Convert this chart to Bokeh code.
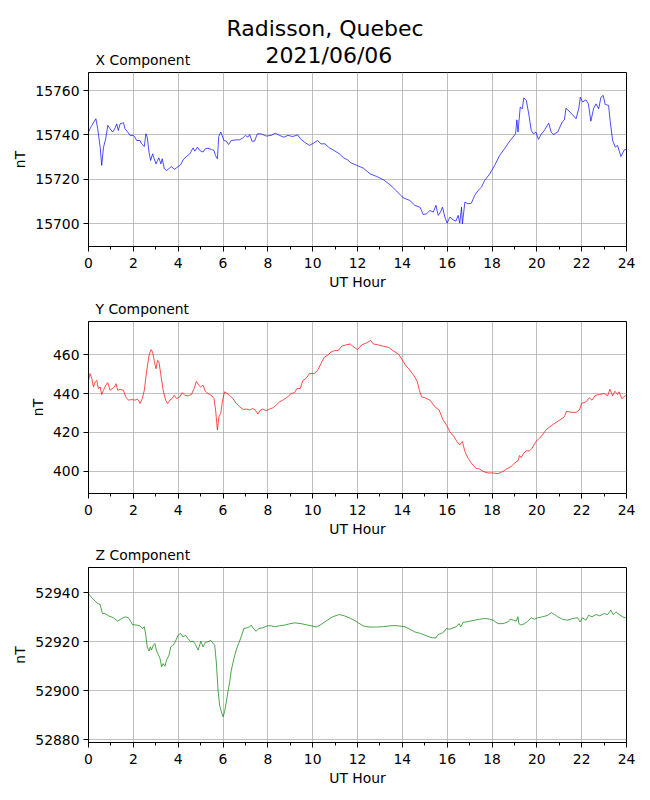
from bokeh.plotting import figure
from bokeh.layouts import column
from bokeh.models import FixedTicker, Range1d, Title
from bokeh.embed import file_html
from bokeh.resources import INLINE

FONT = "DejaVu Sans"

# ---------------- data (UT hour, nT) ----------------
x_hours = [0, 0.07, 0.15, 0.33, 0.41, 0.52, 0.59, 0.67, 0.77, 0.86, 0.96, 1.08, 1.19, 1.26, 1.33, 1.41,
           1.56, 1.63, 1.75, 1.85, 2.0, 2.07, 2.15, 2.3, 2.37, 2.49, 2.56, 2.62, 2.7, 2.77, 2.86, 2.93,
           3.01, 3.08, 3.14, 3.23, 3.29, 3.38, 3.48, 3.63, 3.7, 3.82, 3.97, 4.12, 4.22, 4.37, 4.52, 4.67,
           4.74, 4.86, 4.96, 5.11, 5.21, 5.33, 5.48, 5.6, 5.66, 5.75, 5.81, 5.9, 5.96, 6.04, 6.15, 6.25,
           6.37, 6.59, 6.74, 6.89, 7.0, 7.11, 7.19, 7.29, 7.41, 7.53, 7.7, 7.93, 8.15, 8.33, 8.52, 8.71,
           8.89, 9.11, 9.33, 9.45, 9.63, 9.85, 10.04, 10.22, 10.37, 10.55, 10.74, 10.96, 11.19, 11.38,
           11.56, 11.7, 11.93, 12.27, 12.56, 12.86, 13.16, 13.45, 13.75, 14.04, 14.34, 14.56, 14.79,
           14.93, 15.08, 15.23, 15.38, 15.5, 15.6, 15.7, 15.79, 15.9, 16.0, 16.12, 16.27, 16.39, 16.49,
           16.56, 16.64, 16.68, 16.79, 16.93, 17.08, 17.23, 17.38, 17.53, 17.67, 17.9, 18.12, 18.34,
           18.56, 18.76, 18.93, 19.05, 19.11, 19.16, 19.26, 19.35, 19.42, 19.53, 19.64, 19.75, 19.85,
           19.96, 20.07, 20.19, 20.33, 20.53, 20.64, 20.74, 20.93, 21.13, 21.23, 21.3, 21.48, 21.75,
           21.87, 21.94, 22.04, 22.19, 22.3, 22.41, 22.53, 22.64, 22.76, 22.86, 22.96, 23.05, 23.2,
           23.27, 23.38, 23.5, 23.6, 23.75, 23.9, 24.0]
x_values = [15741.3, 15742.8, 15744.3, 15747.3, 15742.8, 15734.5, 15726.3, 15734.5, 15738.3, 15744.3,
            15742.8, 15741.3, 15743.2, 15745.0, 15742.0, 15745.0, 15745.5, 15742.8, 15741.3, 15739.8,
            15739.8, 15739.0, 15737.5, 15737.5, 15736.0, 15734.8, 15740.5, 15739.0, 15732.3, 15728.5,
            15731.5, 15729.3, 15727.0, 15728.5, 15729.7, 15727.0, 15729.3, 15724.8, 15724.0, 15725.2,
            15725.8, 15724.5, 15725.5, 15726.7, 15728.8, 15730.3, 15731.5, 15734.2, 15732.7, 15734.5,
            15733.0, 15732.3, 15733.8, 15734.0, 15733.5, 15733.0, 15730.8, 15729.3, 15739.3, 15741.3,
            15739.8, 15737.5, 15737.2, 15735.7, 15737.5, 15737.8, 15737.8, 15738.7, 15739.8, 15739.0,
            15740.2, 15737.2, 15737.2, 15740.5, 15740.5, 15739.5, 15739.8, 15740.8, 15739.8, 15739.0,
            15739.8, 15739.3, 15740.0, 15738.3, 15736.8, 15735.3, 15736.3, 15737.5, 15736.0, 15736.0,
            15734.2, 15733.0, 15731.5, 15729.7, 15728.8, 15727.5, 15726.5, 15725.0, 15722.5, 15721.3,
            15719.8, 15717.6, 15714.7, 15711.7, 15710.5, 15708.3, 15707.5, 15704.2, 15704.5, 15706.0,
            15705.3, 15708.3, 15703.8, 15705.3, 15707.5, 15703.0, 15700.3, 15703.0, 15701.8, 15701.2,
            15703.8, 15700.3, 15707.5, 15700.0, 15709.8, 15709.0, 15709.3, 15712.8, 15715.0, 15716.5,
            15719.5, 15722.5, 15726.3, 15730.8, 15733.8, 15736.8, 15739.0, 15740.5, 15746.8, 15741.3,
            15752.5, 15751.8, 15756.7, 15755.5, 15749.5, 15742.0, 15740.5, 15741.3, 15738.0, 15740.2,
            15742.0, 15745.3, 15741.3, 15740.2, 15741.3, 15745.8, 15746.8, 15752.0, 15750.3, 15747.3,
            15751.8, 15757.0, 15754.8, 15755.8, 15754.0, 15746.2, 15751.8, 15754.0, 15751.8, 15757.0,
            15757.8, 15753.7, 15753.3, 15746.5, 15737.5, 15734.5, 15735.3, 15730.3, 15733.3, 15733.5]

y_hours = [0, 0.07, 0.15, 0.22, 0.3, 0.37, 0.44, 0.52, 0.59, 0.67, 0.77, 0.86, 0.96, 1.07, 1.16, 1.23,
           1.3, 1.41, 1.56, 1.66, 1.78, 1.93, 2.07, 2.19, 2.3, 2.4, 2.49, 2.59, 2.7, 2.79, 2.86, 2.93,
           3.01, 3.08, 3.14, 3.23, 3.33, 3.44, 3.53, 3.63, 3.73, 3.82, 3.93, 4.07, 4.18, 4.3, 4.44, 4.59,
           4.71, 4.81, 4.92, 5.0, 5.11, 5.21, 5.33, 5.48, 5.6, 5.67, 5.75, 5.82, 5.9, 5.97, 6.07, 6.19,
           6.3, 6.44, 6.59, 6.74, 6.89, 7.04, 7.19, 7.33, 7.44, 7.56, 7.67, 7.78, 7.93, 8.07, 8.22, 8.37,
           8.52, 8.71, 8.89, 9.04, 9.19, 9.3, 9.45, 9.56, 9.7, 9.85, 10.07, 10.22, 10.37, 10.52, 10.7,
           10.81, 10.99, 11.14, 11.29, 11.48, 11.67, 11.85, 12.0, 12.19, 12.41, 12.59, 12.71, 12.93,
           13.16, 13.38, 13.57, 13.82, 13.97, 14.12, 14.34, 14.56, 14.67, 14.76, 14.86, 15.01, 15.23,
           15.45, 15.64, 15.82, 15.97, 16.12, 16.3, 16.44, 16.56, 16.68, 16.79, 16.93, 17.08, 17.27,
           17.45, 17.6, 17.82, 18.04, 18.27, 18.49, 18.67, 18.86, 19.01, 19.16, 19.23, 19.3, 19.41,
           19.53, 19.67, 19.79, 19.96, 20.19, 20.41, 20.64, 20.86, 21.08, 21.23, 21.33, 21.53, 21.75,
           21.9, 22.0, 22.19, 22.34, 22.46, 22.61, 22.79, 23.01, 23.16, 23.26, 23.38, 23.48, 23.6,
           23.67, 23.79, 23.94, 24.0]
y_values = [446.8, 450.3, 447.7, 443.4, 446.0, 446.8, 442.6, 443.4, 439.5, 441.7, 444.3, 445.6, 441.7,
            442.6, 443.4, 445.1, 441.7, 442.2, 441.7, 438.3, 436.6, 436.9, 436.6, 437.1, 434.9, 437.4,
            441.7, 451.1, 459.7, 462.7, 461.4, 457.1, 452.8, 457.1, 456.6, 449.4, 441.7, 436.6, 434.9,
            436.6, 437.4, 439.1, 437.4, 438.3, 440.5, 439.1, 438.8, 439.5, 442.6, 446.3, 444.3, 443.4,
            444.3, 441.2, 440.0, 439.1, 437.4, 431.5, 421.2, 428.0, 429.7, 435.7, 440.9, 440.0, 439.1,
            437.4, 434.9, 433.2, 431.8, 432.0, 431.5, 432.3, 431.5, 429.4, 431.5, 432.0, 431.1, 432.0,
            432.6, 434.0, 435.7, 436.9, 438.3, 440.0, 440.5, 442.6, 442.6, 446.8, 447.7, 450.3, 450.3,
            452.0, 455.4, 458.8, 460.0, 461.4, 462.2, 462.2, 464.4, 465.1, 465.6, 463.9, 462.7, 465.1,
            466.2, 467.4, 465.6, 465.1, 464.4, 463.9, 462.2, 460.5, 457.9, 455.0, 452.0, 448.5, 446.0,
            441.7, 438.3, 437.8, 436.6, 433.2, 431.5, 426.3, 423.8, 420.3, 417.8, 415.2, 413.5, 415.2,
            410.1, 406.7, 404.1, 401.5, 401.0, 399.8, 399.0, 399.0, 398.6, 399.8, 401.2, 402.4, 404.1,
            405.3, 408.0, 407.0, 409.2, 410.4, 410.4, 411.8, 415.2, 417.8, 421.2, 423.4, 425.1, 426.8,
            428.0, 430.9, 430.3, 430.3, 431.5, 434.9, 435.7, 437.8, 436.6, 439.1, 439.5, 440.0, 438.8,
            442.2, 438.8, 441.2, 439.5, 440.9, 437.4, 438.8, 439.0]

z_hours = [0, 0.15, 0.3, 0.41, 0.52, 0.62, 0.74, 0.89, 1.11, 1.3, 1.48, 1.66, 1.81, 1.96, 2.15, 2.3,
           2.4, 2.49, 2.56, 2.62, 2.7, 2.76, 2.81, 2.89, 2.96, 3.04, 3.11, 3.19, 3.26, 3.33, 3.41, 3.48,
           3.59, 3.67, 3.78, 3.88, 4.0, 4.11, 4.22, 4.33, 4.44, 4.56, 4.67, 4.77, 4.89, 5.01, 5.11, 5.21,
           5.33, 5.45, 5.56, 5.63, 5.7, 5.78, 5.85, 5.93, 6.0, 6.07, 6.15, 6.22, 6.3, 6.37, 6.49, 6.59,
           6.7, 6.81, 6.93, 7.08, 7.19, 7.26, 7.38, 7.48, 7.59, 7.78, 7.97, 8.15, 8.3, 8.52, 8.74, 8.96,
           9.19, 9.48, 9.78, 10.0, 10.15, 10.37, 10.59, 10.89, 11.19, 11.41, 11.7, 11.93, 12.0, 12.27,
           12.56, 12.86, 13.16, 13.45, 13.67, 13.9, 14.12, 14.34, 14.56, 14.81, 15.01, 15.2, 15.35, 15.5,
           15.6, 15.75, 15.85, 15.97, 16.12, 16.27, 16.41, 16.53, 16.61, 16.71, 16.83, 17.01, 17.23,
           17.45, 17.67, 17.9, 18.04, 18.27, 18.49, 18.71, 18.81, 18.96, 19.08, 19.16, 19.2, 19.3, 19.45,
           19.6, 19.75, 19.9, 20.04, 20.27, 20.49, 20.64, 20.79, 20.93, 21.16, 21.38, 21.6, 21.82, 21.93,
           22.04, 22.19, 22.31, 22.46, 22.64, 22.81, 23.0, 23.16, 23.3, 23.41, 23.53, 23.67, 23.82,
           23.94, 24.0]
z_values = [52939.6, 52937.8, 52936.5, 52935.5, 52935.1, 52931.4, 52931.4, 52930.5, 52929.7, 52928.3,
            52929.4, 52930.1, 52929.4, 52926.9, 52926.7, 52926.4, 52925.3, 52926.0, 52922.3, 52917.8,
            52916.1, 52917.8, 52916.5, 52918.5, 52919.2, 52916.1, 52914.7, 52913.1, 52909.7, 52911.0,
            52909.9, 52912.4, 52914.4, 52917.8, 52918.5, 52920.1, 52922.6, 52923.3, 52921.9, 52922.6,
            52921.2, 52919.9, 52920.1, 52918.8, 52916.5, 52920.1, 52917.8, 52919.6, 52919.9, 52920.5,
            52919.2, 52918.5, 52911.7, 52900.1, 52894.0, 52891.3, 52889.3, 52891.3, 52895.4, 52899.5,
            52903.5, 52908.3, 52913.1, 52916.5, 52919.2, 52921.9, 52925.3, 52925.6, 52926.0, 52926.7,
            52925.0, 52924.2, 52925.3, 52925.6, 52926.4, 52926.4, 52926.0, 52926.4, 52926.7, 52927.2,
            52927.6, 52927.3, 52926.7, 52926.3, 52925.9, 52926.9, 52928.3, 52930.1, 52931.0, 52930.5,
            52929.4, 52928.3, 52927.8, 52926.3, 52925.9, 52925.9, 52926.1, 52926.4, 52926.5, 52926.3,
            52926.0, 52925.0, 52923.9, 52923.3, 52922.6, 52921.9, 52921.5, 52921.5, 52922.9, 52923.3,
            52923.9, 52925.3, 52925.0, 52925.6, 52926.0, 52927.3, 52926.0, 52927.8, 52928.0, 52928.3,
            52928.7, 52929.1, 52929.4, 52929.1, 52928.7, 52927.3, 52927.3, 52928.0, 52929.1, 52928.7,
            52928.3, 52930.1, 52927.3, 52926.7, 52927.3, 52928.3, 52929.7, 52929.1, 52929.7, 52930.1,
            52930.7, 52931.8, 52931.0, 52930.1, 52929.0, 52928.7, 52929.4, 52929.7, 52928.0, 52929.7,
            52928.7, 52930.7, 52930.1, 52931.0, 52930.5, 52931.4, 52931.0, 52932.8, 52931.0, 52932.1,
            52931.0, 52930.1, 52929.7, 52929.5]

hour_ticks = list(range(0, 25, 2))
hour_minor = list(range(1, 24, 2))
x_ticks = [15700, 15720, 15740, 15760]
y_ticks = [400, 420, 440, 460]
z_ticks = [52880, 52900, 52920, 52940]

FS = "13.9px"


def make_panel(title, hours, vals, color, yrange, yticks, height, top, bottom, title_standoff):
    p = figure(width=642, height=height, x_range=Range1d(0, 24), y_range=Range1d(*yrange),
               output_backend="svg", toolbar_location=None, title=None,
               min_border_left=88, min_border_right=16, min_border_top=top, min_border_bottom=bottom,
               background_fill_color="white", border_fill_color="white")
    p.add_layout(Title(text=title, align="left", offset=7, text_font=FONT, text_font_size=FS,
                       text_font_style="normal", text_color="black", standoff=title_standoff), "above")
    p.line(hours, vals, line_color=color, line_width=0.7)
    p.xaxis.ticker = FixedTicker(ticks=hour_ticks, minor_ticks=hour_minor)
    p.yaxis.ticker = FixedTicker(ticks=yticks, minor_ticks=[])
    p.xaxis.axis_label = "UT Hour"
    p.yaxis.axis_label = "nT"
    for ax in (p.xaxis[0], p.yaxis[0]):
        ax.axis_label_text_font = FONT
        ax.axis_label_text_font_size = FS
        ax.axis_label_text_font_style = "normal"
        ax.axis_label_text_color = "black"
        ax.axis_label_standoff = 4
        ax.major_label_text_font = FONT
        ax.major_label_text_font_size = FS
        ax.major_label_text_color = "black"
        ax.major_label_standoff = 4
        ax.axis_line_color = "black"
        ax.major_tick_line_color = "black"
        ax.minor_tick_line_color = "black"
        ax.major_tick_in = 0
        ax.major_tick_out = 5
        ax.minor_tick_in = 0
        ax.minor_tick_out = 3
    p.xaxis.major_label_standoff = 6
    p.xaxis.axis_label_standoff = 3
    p.grid.grid_line_color = "#b0b0b0"
    p.grid.grid_line_width = 0.8
    p.outline_line_color = "black"
    p.outline_line_width = 1
    p.outline_line_alpha = 1
    return p


p1 = make_panel("X Component", x_hours, x_values, "blue", (15689.8, 15768.1), x_ticks, 293, 72, 47, 10)
p1.add_layout(Title(text="2021/06/06", align="left", offset=177, text_font=FONT, text_font_size="22px",
                    text_font_style="normal", text_color="black", standoff=-46), "above")
p1.add_layout(Title(text="Radisson, Quebec", align="left", offset=138, text_font=FONT,
                    text_font_size="22px", text_font_style="normal", text_color="black", standoff=7), "above")
p2 = make_panel("Y Component", y_hours, y_values, "red", (388.4, 477.2), y_ticks, 246, 28, 45, 9)
p3 = make_panel("Z Component", z_hours, z_values, "green", (52878.8, 52950.2), z_ticks, 251, 28, 48, 9)

layout = column(p1, p2, p3, spacing=0)
open("out.html", "w").write(file_html(layout, INLINE))
